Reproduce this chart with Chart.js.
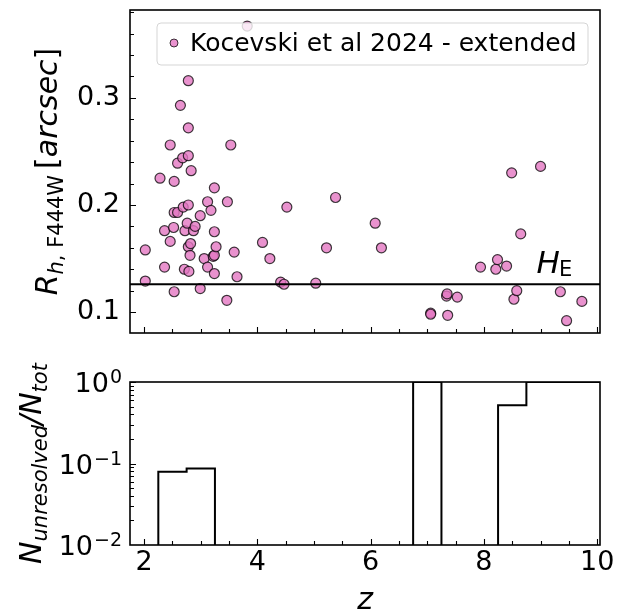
<!DOCTYPE html>
<html>
<head>
<meta charset="utf-8">
<script src="https://cdn.jsdelivr.net/npm/chart.js@4.4.1/dist/chart.umd.min.js"></script>
<style>
  html, body { margin: 0; padding: 0; background: #fff; }
  #wrap { position: relative; width: 622px; height: 612px; }
  canvas { position: absolute; left: 0; }
</style>
</head>
<body>
<div id="wrap">
  <canvas id="sizeChart" width="622" height="350" style="top:0"></canvas>
  <canvas id="fracChart" width="622" height="262" style="top:350px"></canvas>
</div>
<script>
// Kocevski et al 2024 - extended sample
const redshift = [
  2.02, 2.02, 2.28, 2.36, 2.36, 2.46, 2.46, 2.52, 2.53, 2.53, 2.53, 2.59, 2.59, 2.64,
  2.68, 2.69, 2.71, 2.72, 2.76, 2.78, 2.78, 2.78, 2.78, 2.78, 2.79, 2.81, 2.82, 2.83,
  2.87, 2.90, 2.99, 2.99, 3.06, 3.12, 3.12, 3.18, 3.22, 3.24, 3.24, 3.24, 3.24, 3.27,
  3.46, 3.47, 3.53, 3.59, 3.64, 3.82, 4.09, 4.22, 4.41, 4.47, 4.52, 5.03, 5.22, 5.38,
  6.08, 6.19, 7.06, 7.06, 7.34, 7.35, 7.36, 7.53, 7.94, 8.21, 8.24, 8.40, 8.49, 8.53,
  8.58, 8.65, 9.00, 9.35, 9.46, 9.73
];
const halfLightRadius = [
  0.158, 0.129, 0.225, 0.176, 0.142, 0.256, 0.166, 0.179, 0.222, 0.193, 0.119, 0.239, 0.193, 0.293,
  0.244, 0.198, 0.140, 0.176, 0.183, 0.316, 0.272, 0.246, 0.200, 0.161, 0.138, 0.153, 0.164, 0.232,
  0.176, 0.180, 0.190, 0.122, 0.150, 0.203, 0.142, 0.195, 0.152, 0.216, 0.175, 0.153, 0.136, 0.161,
  0.111, 0.203, 0.256, 0.156, 0.133, 0.367, 0.165, 0.150, 0.128, 0.126, 0.198, 0.127, 0.160, 0.207,
  0.183, 0.160, 0.099, 0.098, 0.115, 0.117, 0.097, 0.114, 0.142, 0.140, 0.149, 0.143, 0.230, 0.112,
  0.120, 0.173, 0.236, 0.119, 0.092, 0.110
];
const hE = 0.126;

// unresolved fraction per redshift bin
const binEdges = [1.75, 2.25, 2.75, 3.25, 3.75, 4.25, 4.75, 5.25, 5.75, 6.25, 6.75, 7.25, 7.75, 8.25, 8.75, 9.25, 9.75, 10.25];
const unresolvedFrac = [0, 0.079, 0.087, 0, 0, 0, 0, 0, 0, 0, 1, 0, 0, 0.52, 1, 1, 1];

const zTicks = [2, 4, 6, 8, 10];
const rTicks = [0.1, 0.2, 0.3];
const fracTicks = [0.01, 0.1, 1];

const zMin = 1.75, zMax = 10.05;
const rMin = 0.0805, rMax = 0.382;

const FONT = "DejaVu Sans";
const PINK = "rgba(227,119,194,0.8)";
const EDGE = "rgba(0,0,0,0.75)";

// minor tick positions
const zMinor = [];
for (let v = 2; v <= 10.001; v += 0.5) if (Math.abs(v - Math.round(v / 2) * 2) > 1e-6) zMinor.push(v);
const rMinor = [];
for (let v = 0.08; v <= 0.381; v += 0.02) rMinor.push(+v.toFixed(2));
const fracMinor = [];
[0.01, 0.1].forEach(d => { for (let k = 2; k <= 9; k++) fracMinor.push(k * d); });

// frame + inward ticks on left and bottom
const frameTicks = {
  id: "frameTicks",
  afterDraw(chart, args, opts) {
    const { ctx, chartArea: a, scales } = chart;
    const x = scales.x, y = scales.y;
    ctx.save();
    ctx.strokeStyle = "#000";
    ctx.lineWidth = 1.1;
    ctx.beginPath();
    const xt = (list, len) => list.forEach(v => {
      const p = Math.round(x.getPixelForValue(v)) + 0.5;
      if (p < a.left || p > a.right) return;
      ctx.moveTo(p, a.bottom); ctx.lineTo(p, a.bottom - len);
    });
    const yt = (list, len) => list.forEach(v => {
      const p = Math.round(y.getPixelForValue(v)) + 0.5;
      if (p < a.top || p > a.bottom) return;
      ctx.moveTo(a.left, p); ctx.lineTo(a.left + len, p);
    });
    xt(opts.xMajor, 6); xt(opts.xMinor, 4);
    yt(opts.yMajor, 6); yt(opts.yMinor, 4);
    ctx.stroke();
    ctx.lineWidth = 1.6;
    ctx.strokeRect(a.left, a.top, a.right - a.left, a.bottom - a.top);
    ctx.restore();
  }
};

// draw a run of text pieces (mathtext-like), optionally rotated
function drawRuns(ctx, runs, cx, baseY, rotate) {
  ctx.save();
  ctx.fillStyle = "#000";
  ctx.textBaseline = "alphabetic";
  ctx.textAlign = "left";
  let total = 0;
  runs.forEach(r => { ctx.font = r.f; r.w = ctx.measureText(r.t).width; total += r.w + (r.gap || 0); });
  ctx.translate(cx, baseY);
  if (rotate) ctx.rotate(-Math.PI / 2);
  let pos = -total / 2;
  runs.forEach(r => {
    ctx.font = r.f;
    ctx.fillText(r.t, pos, r.dy || 0);
    pos += r.w + (r.gap || 0);
  });
  ctx.restore();
}

const sizeDecor = {
  id: "sizeDecor",
  afterDatasetsDraw(chart) {
    const { ctx, chartArea: a, scales } = chart;
    const py = scales.y.getPixelForValue(hE);
    ctx.save();
    // H_E line
    ctx.strokeStyle = "#000";
    ctx.lineWidth = 2;
    ctx.beginPath();
    ctx.moveTo(a.left, py); ctx.lineTo(a.right, py);
    ctx.stroke();
    // H_E label
    ctx.fillStyle = "#000";
    ctx.textBaseline = "alphabetic";
    ctx.font = "italic 31px " + FONT;
    const hx = scales.x.getPixelForValue(8.93);
    ctx.fillText("H", hx, py - 11);
    const hw = ctx.measureText("H").width;
    ctx.font = "21px " + FONT;
    ctx.fillText("E", hx + hw - 1, py - 8);
    // legend box
    const lx = 157, ly = 23, lw = 431, lh = 42;
    ctx.beginPath();
    ctx.roundRect(lx, ly, lw, lh, 4);
    ctx.fillStyle = "rgba(255,255,255,0.8)";
    ctx.fill();
    ctx.strokeStyle = "#d5d5d5";
    ctx.lineWidth = 1;
    ctx.stroke();
    ctx.beginPath();
    ctx.arc(lx + 17, ly + 20, 4, 0, Math.PI * 2);
    ctx.fillStyle = PINK; ctx.fill();
    ctx.strokeStyle = EDGE; ctx.lineWidth = 1; ctx.stroke();
    ctx.fillStyle = "#000";
    ctx.font = "25px " + FONT;
    ctx.textBaseline = "middle";
    ctx.fillText("Kocevski et al 2024 - extended", lx + 33, ly + 21);
    ctx.restore();
    // y label
    drawRuns(ctx, [
      { t: "R", f: "italic 30px " + FONT },
      { t: "h", f: "italic 21px " + FONT, dy: 6 },
      { t: ", ", f: "21px " + FONT, dy: 6 },
      { t: "F444W", f: "21px " + FONT, dy: 6, gap: 6 },
      { t: "[", f: "30px " + FONT },
      { t: "arcsec", f: "italic 30px " + FONT },
      { t: "]", f: "30px " + FONT }
    ], 57, (a.top + a.bottom) / 2, true);
  }
};

const fracDecor = {
  id: "fracDecor",
  afterDraw(chart) {
    const { ctx, chartArea: a, scales } = chart;
    // log tick labels 10^n
    fracTicks.forEach(v => {
      const p = scales.y.getPixelForValue(v);
      const e = Math.round(Math.log10(v));
      const sup = e < 0 ? "\u2212" + (-e) : String(e);
      ctx.save();
      ctx.fillStyle = "#000";
      ctx.textBaseline = "alphabetic";
      ctx.font = "19px " + FONT;
      const sw = ctx.measureText(sup).width;
      ctx.font = "27px " + FONT;
      const bw = ctx.measureText("10").width;
      const right = a.left - 8;
      ctx.fillText("10", right - sw - bw - 1, p + 10);
      ctx.font = "19px " + FONT;
      ctx.fillText(sup, right - sw, p + 1);
      ctx.restore();
    });
    // axis labels
    drawRuns(ctx, [
      { t: "N", f: "italic 30px " + FONT },
      { t: "unresolved", f: "italic 21px " + FONT, dy: 6 },
      { t: "/", f: "italic 30px " + FONT },
      { t: "N", f: "italic 30px " + FONT },
      { t: "tot", f: "italic 21px " + FONT, dy: 6 }
    ], 41, (a.top + a.bottom) / 2, true);
    drawRuns(ctx, [{ t: "z", f: "italic 30px " + FONT }], (a.left + a.right) / 2, 259, false);
  }
};

const fixTicks = list => s => { s.ticks = list.map(v => ({ value: v })); };
const noPad = s => { s.paddingTop = 0; s.paddingBottom = 0; s.paddingLeft = 0; s.paddingRight = 0; };

new Chart(document.getElementById("sizeChart"), {
  type: "scatter",
  data: {
    datasets: [{
      label: "Kocevski et al 2024 - extended",
      data: redshift.map((z, i) => ({ x: z, y: halfLightRadius[i] })),
      backgroundColor: PINK,
      borderColor: EDGE,
      borderWidth: 1.2,
      pointRadius: 5,
      clip: 6
    }]
  },
  options: {
    responsive: false,
    animation: false,
    layout: { padding: { top: 10, right: 22, left: 0, bottom: 0 } },
    plugins: {
      legend: { display: false },
      tooltip: { enabled: false },
      frameTicks: { xMajor: zTicks, xMinor: zMinor, yMajor: rTicks, yMinor: rMinor }
    },
    scales: {
      x: {
        type: "linear", min: zMin, max: zMax,
        grid: { display: false, drawTicks: false }, border: { display: false },
        ticks: { display: false },
        afterBuildTicks: fixTicks(zTicks),
        afterFit: s => { s.height = 17; noPad(s); }
      },
      y: {
        type: "linear", min: rMin, max: rMax,
        grid: { display: false, drawTicks: false }, border: { display: false },
        ticks: { color: "#000", padding: 10, font: { family: FONT, size: 27 }, callback: v => v.toFixed(1) },
        afterBuildTicks: fixTicks(rTicks),
        afterFit: s => { s.width = 130; noPad(s); }
      }
    }
  },
  plugins: [frameTicks, sizeDecor]
});

const FLOOR = 1e-4; // empty bins sit below the axis
const stepPoints = binEdges.slice(0, -1).map((e, i) => ({ x: e, y: unresolvedFrac[i] > 0 ? unresolvedFrac[i] : FLOOR }));
stepPoints.push({ x: binEdges[binEdges.length - 1], y: FLOOR });

new Chart(document.getElementById("fracChart"), {
  type: "line",
  data: {
    datasets: [{
      data: stepPoints,
      stepped: "before",
      borderColor: "#000",
      borderWidth: 2,
      pointRadius: 0,
      fill: false,
      clip: 0
    }]
  },
  options: {
    responsive: false,
    animation: false,
    layout: { padding: { top: 32, right: 22, left: 0, bottom: 0 } },
    plugins: {
      legend: { display: false },
      tooltip: { enabled: false },
      frameTicks: { xMajor: zTicks, xMinor: zMinor, yMajor: fracTicks, yMinor: fracMinor }
    },
    scales: {
      x: {
        type: "linear", min: zMin, max: zMax,
        grid: { display: false, drawTicks: false }, border: { display: false },
        ticks: { color: "#000", padding: 2, maxRotation: 0, font: { family: FONT, size: 27 }, callback: v => String(v) },
        afterBuildTicks: fixTicks(zTicks),
        afterFit: s => { s.height = 67; noPad(s); }
      },
      y: {
        type: "logarithmic", min: 0.01, max: 1,
        grid: { display: false, drawTicks: false }, border: { display: false },
        ticks: { display: false },
        afterBuildTicks: fixTicks(fracTicks),
        afterFit: s => { s.width = 130; noPad(s); }
      }
    }
  },
  plugins: [frameTicks, fracDecor]
});
</script>
</body>
</html>
